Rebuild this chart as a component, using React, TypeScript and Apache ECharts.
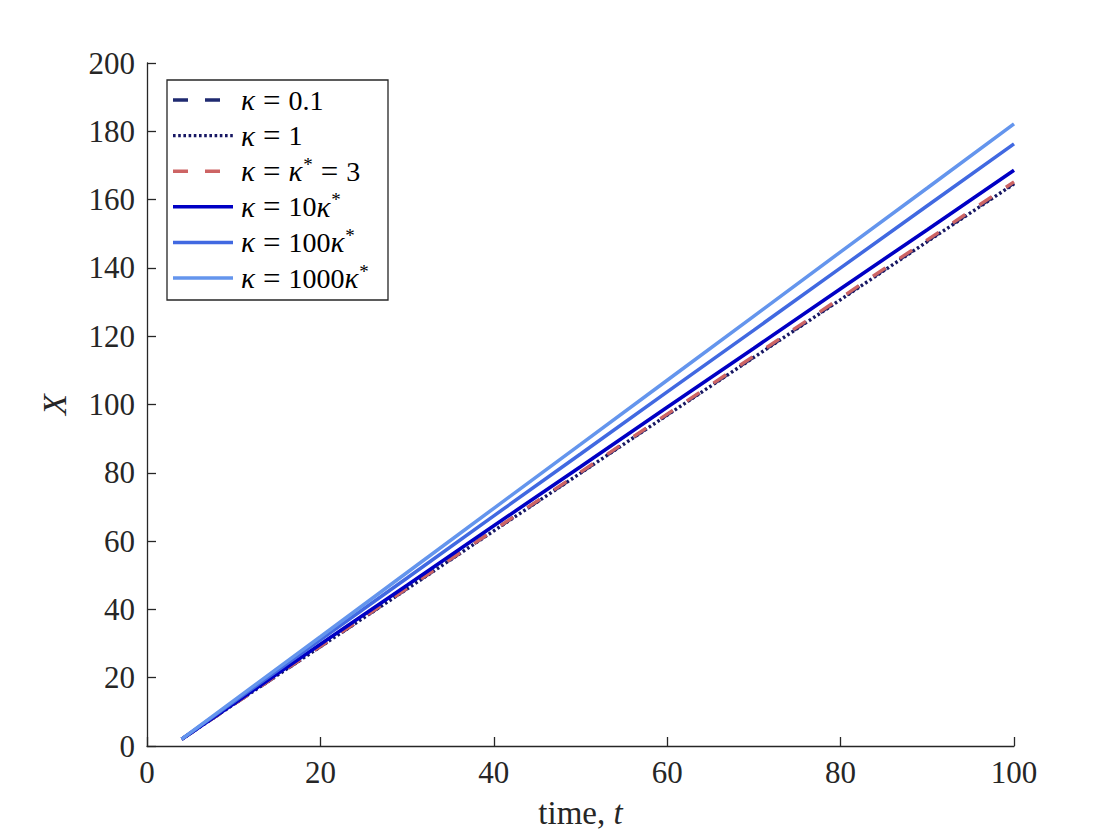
import React, { useEffect, useRef } from "react";
import * as echarts from "echarts";

const times = [4, 10, 20, 30, 40, 50, 60, 70, 80, 90, 100];
const seriesNames = ["k01", "k1", "k3", "k10", "k100", "k1000"];
const k01 = [2, 12.2, 29.1, 46.1, 63.1, 80.0, 97.0, 113.9, 130.9, 147.9, 164.8];
const k1 = [2, 12.2, 29.1, 46.0, 63.0, 79.9, 96.9, 113.8, 130.7, 147.7, 164.6];
const k3 = [2, 12.2, 29.2, 46.2, 63.2, 80.2, 97.2, 114.2, 131.2, 148.2, 165.2];
const k10 = [2, 12.4, 29.8, 47.1, 64.5, 81.8, 99.2, 116.5, 133.9, 151.2, 168.6];
const k100 = [2, 12.9, 31.1, 49.2, 67.4, 85.5, 103.7, 121.8, 140.0, 158.2, 176.3];
const k1000 = [2, 13.3, 32.0, 50.8, 69.6, 88.3, 107.1, 125.9, 144.7, 163.4, 182.2];
const legendLabels: Record<string, string> = {
  k01: "{i|κ}{e|=}0.1",
  k1: "{i|κ}{e|=}1",
  k3: "{i|κ}{e|=}{i|κ}{s|*}{e|=}3",
  k10: "{i|κ}{e|=}10{i|κ}{s|*}",
  k100: "{i|κ}{e|=}100{i|κ}{s|*}",
  k1000: "{i|κ}{e|=}1000{i|κ}{s|*}",
};
const xTicks = [0, 20, 40, 60, 80, 100];
const yTicks = [0, 20, 40, 60, 80, 100, 120, 140, 160, 180, 200];

const FONT = "'Liberation Serif', 'DejaVu Serif', serif";
const TXT = "#262626";

const COLORS = ["#1f2a70", "#171763", "#cd6464", "#0000c4", "#4169e1", "#6495ed"];
const DASHES: any[] = [[15, 17], [2.6, 2.6], [15, 17], null, null, null];
const WIDTHS = [3.4, 3.4, 3.4, 3.6, 3.5, 3.5];

export default function App() {
  const ref = useRef<HTMLDivElement>(null);
  useEffect(() => {
    document.body.style.margin = "0";
    if (!ref.current) return;
    const chart = echarts.init(ref.current, undefined, { renderer: "svg" });
    const pair = (arr: number[]) => times.map((t, i) => [t, arr[i]]);
    const datas = [k01, k1, k3, k10, k100, k1000];
    const series = seriesNames.map((name, i) => ({
      name,
      type: "line",
      data: pair(datas[i]),
      symbol: "none",
      showSymbol: false,
      lineStyle: { color: COLORS[i], width: WIDTHS[i], type: DASHES[i] || "solid", cap: "butt" },
      itemStyle: { color: COLORS[i] },
    }));

    const legendX = 167, legendY = 80, rowH = 35.6;
    const legendChildren: any[] = [
      {
        type: "rect",
        shape: { x: legendX, y: legendY, width: 221, height: 220 },
        style: { fill: "#ffffff", stroke: "#262626", lineWidth: 1.3 },
      },
    ];
    seriesNames.forEach((n, i) => {
      const cy = legendY + 20 + i * rowH;
      legendChildren.push({
        type: "line",
        shape: { x1: legendX + 6, y1: cy, x2: legendX + 66, y2: cy },
        style: {
          stroke: COLORS[i],
          lineWidth: WIDTHS[i],
          lineDash: DASHES[i] || undefined,
          lineCap: "butt",
        },
      });
      legendChildren.push({
        type: "text",
        x: legendX + 74,
        y: cy,
        style: {
          text: legendLabels[n],
          fontFamily: FONT,
          fontSize: 28,
          fill: "#000",
          verticalAlign: "middle",
          align: "left",
          rich: {
            i: { fontFamily: FONT, fontSize: 29, fontStyle: "italic", fill: "#000" },
            e: { fontFamily: FONT, fontSize: 31, fill: "#000", padding: [0, 8, 0, 8] },
            s: { fontFamily: FONT, fontSize: 19, fill: "#000", padding: [0, 0, 14, 1] },
          },
        },
      });
    });

    chart.setOption({
      animation: false,
      backgroundColor: "#ffffff",
      grid: { left: 147, right: 106, top: 63, bottom: 94, containLabel: false },
      xAxis: {
        type: "value",
        min: 0,
        max: 100,
        interval: 20,
        name: "{r|time, }{i|t}",
        nameLocation: "middle",
        nameGap: 50,
        nameTextStyle: {
          rich: {
            r: { fontFamily: FONT, fontSize: 33, color: TXT },
            i: { fontFamily: FONT, fontSize: 33, color: TXT, fontStyle: "italic" },
          },
        },
        axisLine: { show: true, lineStyle: { color: TXT, width: 1.3 } },
        axisTick: { show: true, inside: true, length: 9, lineStyle: { color: TXT, width: 1.3 } },
        axisLabel: {
          fontFamily: FONT,
          fontSize: 31,
          color: TXT,
          margin: 11,
          formatter: (v: number) => (xTicks.includes(v) ? String(v) : ""),
        },
        splitLine: { show: false },
      },
      yAxis: {
        type: "value",
        min: 0,
        max: 200,
        interval: 20,
        name: "X",
        nameLocation: "middle",
        nameGap: 76,
        nameRotate: 90,
        nameTextStyle: { fontFamily: FONT, fontSize: 34, color: TXT, fontStyle: "italic" },
        axisLine: { show: true, lineStyle: { color: TXT, width: 1.3 } },
        axisTick: { show: true, inside: true, length: 9, lineStyle: { color: TXT, width: 1.3 } },
        axisLabel: {
          fontFamily: FONT,
          fontSize: 31,
          color: TXT,
          margin: 12,
          formatter: (v: number) => (yTicks.includes(v) ? String(v) : ""),
        },
        splitLine: { show: false },
      },
      graphic: [{ type: "group", z: 100, children: legendChildren }],
      series,
    });
    return () => chart.dispose();
  }, []);
  return <div ref={ref} style={{ width: 1120, height: 840 }} />;
}
